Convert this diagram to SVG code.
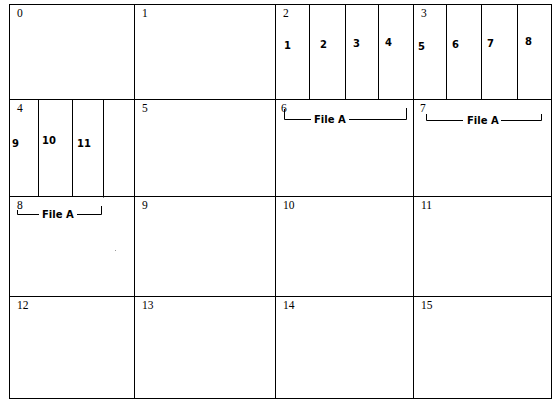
<svg xmlns="http://www.w3.org/2000/svg" width="559" height="406" viewBox="0 0 559 406">
<style>
.cell{fill:none;stroke:#000;stroke-width:1}
.ln{stroke:#000;stroke-width:1;fill:none}
.lbl{font-family:"Liberation Serif","Times New Roman",serif;font-size:11.5px;fill:#000}
.num{font-family:"DejaVu Sans","Liberation Sans",sans-serif;font-size:10px;font-weight:bold;fill:#000}
.fa{font-family:"DejaVu Sans","Liberation Sans",sans-serif;font-size:10px;font-weight:bold;fill:#000}
</style>
<rect width="559" height="406" fill="#fff"/>
<g id="cell0"><rect class="cell" x="9.5" y="4.5" width="125" height="95"/><text class="lbl" x="17" y="16.5">0</text></g>
<g id="cell1"><rect class="cell" x="134.5" y="4.5" width="141" height="95"/><text class="lbl" x="142" y="16.5">1</text></g>
<g id="cell2"><rect class="cell" x="275.5" y="4.5" width="138" height="95"/><text class="lbl" x="283" y="16.5">2</text>
<path class="ln" d="M309.5 4.5V99.5M345.5 4.5V99.5M378.5 4.5V99.5"/>
<text class="num" x="284" y="49">1</text><text class="num" x="320" y="48">2</text><text class="num" x="353" y="47">3</text><text class="num" x="385" y="46">4</text></g>
<g id="cell3"><rect class="cell" x="413.5" y="4.5" width="138" height="95"/><text class="lbl" x="421" y="16.5">3</text>
<path class="ln" d="M446.5 4.5V99.5M481.5 4.5V99.5M517.5 4.5V99.5"/>
<text class="num" x="418" y="50">5</text><text class="num" x="452" y="48">6</text><text class="num" x="487" y="47">7</text><text class="num" x="525" y="45">8</text></g>
<g id="cell4"><rect class="cell" x="9.5" y="99.5" width="125" height="97"/><text class="lbl" x="17" y="112">4</text>
<path class="ln" d="M38.5 99.5V196.5M72.5 99.5V196.5M103.5 99.5V197.5"/>
<text class="num" x="12" y="147">9</text><text class="num" x="42" y="144">10</text><text class="num" x="77" y="147">11</text></g>
<g id="cell5"><rect class="cell" x="134.5" y="99.5" width="141" height="97"/><text class="lbl" x="142" y="112">5</text></g>
<g id="cell6"><rect class="cell" x="275.5" y="99.5" width="138" height="97"/><text class="lbl" x="281" y="112">6</text>
<path class="ln" d="M284.5 109V119.5H311M349 119.5H406.5V108"/>
<text class="fa" x="314" y="123">File A</text></g>
<g id="cell7"><rect class="cell" x="413.5" y="99.5" width="138" height="97"/><text class="lbl" x="420" y="112">7</text>
<path class="ln" d="M426.5 114V120.5H463M501 120.5H541.5V114"/>
<text class="fa" x="467" y="124">File A</text></g>
<g id="cell8"><rect class="cell" x="9.5" y="196.5" width="125" height="100"/><text class="lbl" x="17" y="208.5">8</text>
<path class="ln" d="M17.5 210V214.5H39M77 214.5H101.5V206"/>
<text class="fa" x="42" y="218">File A</text>
<rect x="115" y="250" width="1" height="1" fill="#999"/></g>
<g id="cell9"><rect class="cell" x="134.5" y="196.5" width="141" height="100"/><text class="lbl" x="142" y="208.5">9</text></g>
<g id="cell10"><rect class="cell" x="275.5" y="196.5" width="138" height="100"/><text class="lbl" x="283" y="208.5">10</text></g>
<g id="cell11"><rect class="cell" x="413.5" y="196.5" width="138" height="100"/><text class="lbl" x="421" y="208.5">11</text></g>
<g id="cell12"><rect class="cell" x="9.5" y="296.5" width="125" height="102"/><text class="lbl" x="17" y="308.5">12</text></g>
<g id="cell13"><rect class="cell" x="134.5" y="296.5" width="141" height="102"/><text class="lbl" x="142" y="308.5">13</text></g>
<g id="cell14"><rect class="cell" x="275.5" y="296.5" width="138" height="102"/><text class="lbl" x="283" y="308.5">14</text></g>
<g id="cell15"><rect class="cell" x="413.5" y="296.5" width="138" height="102"/><text class="lbl" x="421" y="308.5">15</text></g>
<g id="connectors"></g>
</svg>
